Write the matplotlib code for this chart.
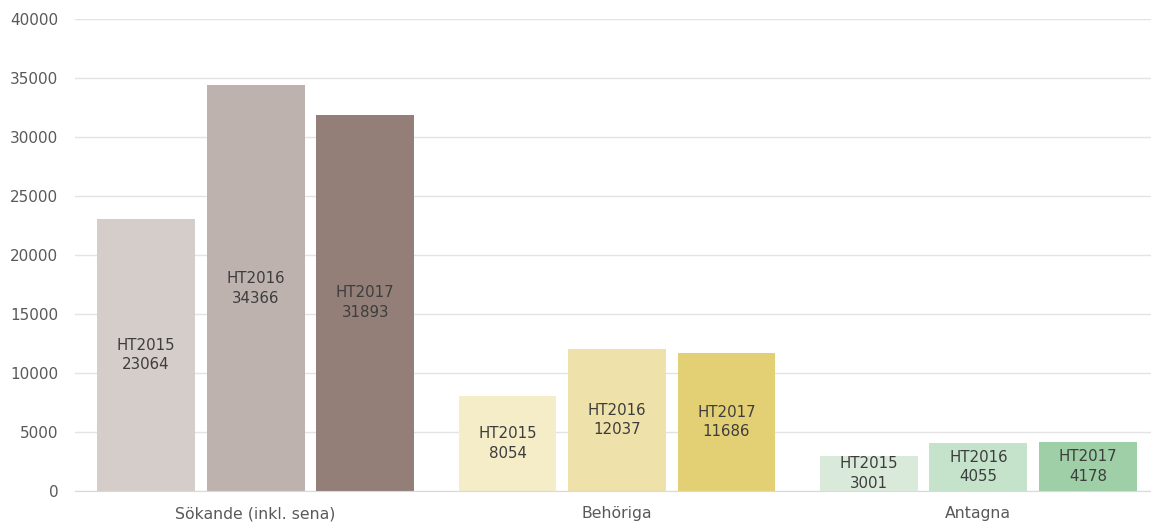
import matplotlib
matplotlib.use('Agg')
import matplotlib.pyplot as plt
import numpy as np

# data
categories = ['Sökande (inkl. sena)', 'Behöriga', 'Antagna']
terms = ['HT2015', 'HT2016', 'HT2017']
ht2015 = [23064, 8054, 3001]
ht2016 = [34366, 12037, 4055]
ht2017 = [31893, 11686, 4178]
yticks = [0, 5000, 10000, 15000, 20000, 25000, 30000, 35000, 40000]

colors = [
    ['#d5cdca', '#bdb2ae', '#937f78'],
    ['#f5ecc8', '#efe1aa', '#e4d074'],
    ['#d9eadb', '#c5e3cb', '#9fcfa7'],
]

plt.rcParams['font.family'] = ['DejaVu Sans']

W, H = 1151, 522
fig = plt.figure(figsize=(W / 100, H / 100), dpi=100)
ax = fig.add_axes([75 / W, 31 / H, (1159 - 75) / W, (491 - 19) / H])

x = np.arange(len(categories))
width = 0.271
step = 0.303
series = [ht2015, ht2016, ht2017]
for i, vals in enumerate(series):
    pos = x + (i - 1) * step
    for j, v in enumerate(vals):
        ax.bar(pos[j], v, width, color=colors[j][i], zorder=2)
        ax.text(pos[j], v / 2, terms[i] + '\n' + str(v), ha='center', va='center',
                fontsize=10.8, color='#3d3d3d', linespacing=1.4, zorder=3)

ax.set_xlim(-0.5, 2.5)
ax.set_ylim(0, 40000)
ax.set_yticks(yticks)
ax.set_yticklabels([str(t) for t in yticks])
ax.set_xticks(x)
ax.set_xticklabels(categories)
ax.grid(axis='y', color='#e3e3e3', linewidth=1, zorder=0)
for s in ['top', 'right', 'left']:
    ax.spines[s].set_visible(False)
ax.spines['bottom'].set_color('#d9d9d9')
ax.tick_params(axis='both', length=0, labelcolor='#595959')
ax.tick_params(axis='y', pad=12, labelsize=11)
ax.tick_params(axis='x', pad=11, labelsize=11.3)

fig.savefig('out.png', dpi=100)
